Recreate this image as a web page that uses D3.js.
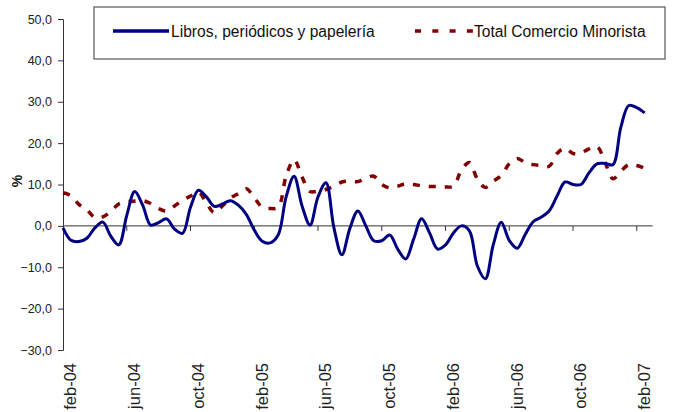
<!DOCTYPE html>
<html>
<head>
<meta charset="utf-8">
<script src="https://cdn.jsdelivr.net/npm/d3@7"></script>
<style>
  html, body { margin: 0; padding: 0; background: #fff; }
  svg { display: block; font-family: "Liberation Sans", Arial, sans-serif; }
</style>
</head>
<body>
<svg id="chart" width="674" height="412"></svg>
<script>
// Month categories (x axis)
const months = ["feb-04","mar-04","abr-04","may-04","jun-04","jul-04","ago-04","sep-04","oct-04","nov-04","dic-04","ene-05",
  "feb-05","mar-05","abr-05","may-05","jun-05","jul-05","ago-05","sep-05","oct-05","nov-05","dic-05","ene-06",
  "feb-06","mar-06","abr-06","may-06","jun-06","jul-06","ago-06","sep-06","oct-06","nov-06","dic-06","ene-07","feb-07"];
const labelEvery = 4;
const yTicks = [-30, -20, -10, 0, 10, 20, 30, 40, 50];
const seriesNames = ["Libros, periódicos y papelería", "Total Comercio Minorista"];

// Values sampled every half month, starting half a month before feb-04
const libros = [-0.5,-3.5,-3.8,-3.0,-0.5,0.9,-2.5,-4.6,2.5,8.3,5.0,0.2,0.8,1.7,-0.8,-1.8,
  4.5,8.6,7.0,4.7,5.3,6.1,5.0,2.8,-1.0,-3.7,-4.1,-2.2,7.0,12.0,4.8,0.2,
  7.0,10.4,-0.5,-7.0,-0.6,3.6,0.0,-3.6,-3.6,-2.2,-5.6,-8.0,-3.2,1.7,-1.7,-5.6,
  -4.6,-1.7,0.0,-1.2,-9.7,-12.8,-4.5,0.9,-3.5,-5.4,-2.1,1.0,2.1,3.6,7.2,10.6,
  10.0,10.0,12.8,15.0,15.1,14.8,23.8,29.1,28.6,27.3];
const total = [8.0,7.3,5.2,3.9,2.0,2.2,3.5,5.3,5.8,6.0,6.1,5.4,4.2,3.6,4.8,6.2,
  7.2,8.2,5.5,3.2,4.8,6.7,7.8,9.0,6.8,4.5,4.2,4.5,12.0,16.0,11.8,8.3,
  8.4,8.8,9.6,10.6,10.8,10.7,11.5,12.0,10.0,9.2,9.6,10.2,10.0,9.7,9.5,9.5,
  9.4,9.6,13.5,15.3,11.3,9.3,10.8,12.2,15.0,16.3,15.3,14.8,14.6,14.4,17.5,18.8,
  17.5,17.6,18.6,19.2,15.5,11.4,13.2,14.8,14.6,13.9];

const svg = d3.select("#chart");
const plot = { left: 63, right: 652.7, top: 19, bottom: 350 };

const band = d3.scaleBand().domain(months).range([plot.left, plot.right]).padding(0);
const x = d3.scaleLinear().domain([-0.5, months.length - 0.5]).range([plot.left, plot.right]);
const y = d3.scaleLinear().domain([-30, 50]).range([plot.bottom, plot.top]);

const fmt = v => d3.format(".1f")(v).replace(".", ",");

// Y axis
const yAxis = svg.append("g").attr("transform", `translate(${plot.left},0)`)
  .call(d3.axisLeft(y).tickValues(yTicks).tickSize(5).tickPadding(6).tickFormat(fmt));
yAxis.select(".domain").attr("stroke", "#333").attr("stroke-width", 1);
yAxis.selectAll(".tick line").attr("stroke", "#333");
yAxis.selectAll(".tick text").attr("font-size", "12.5px").attr("fill", "#222")
  .attr("font-family", "Liberation Sans, Arial, sans-serif");

// Y title
svg.append("text")
  .attr("transform", `translate(22,181) rotate(-90)`)
  .attr("text-anchor", "middle")
  .attr("font-weight", "bold").attr("font-size", "14px").attr("fill", "#111")
  .text("%");

// X axis at zero
const xAxisG = svg.append("g").attr("transform", `translate(0,${y(0)})`);
xAxisG.append("line").attr("x1", plot.left).attr("x2", plot.right)
  .attr("stroke", "#333").attr("stroke-width", 1);
const tickIdx = d3.range(labelEvery, months.length, labelEvery);
xAxisG.selectAll("line.tk").data(tickIdx).join("line").attr("class", "tk")
  .attr("x1", d => band(months[d])).attr("x2", d => band(months[d]))
  .attr("y1", 0).attr("y2", 5).attr("stroke", "#333");

// X labels
const labelled = months.filter((m, i) => i % labelEvery === 0);
svg.selectAll("text.xl").data(labelled).join("text").attr("class", "xl")
  .attr("transform", d => `translate(${band(d) + band.bandwidth() / 2 + 5.5},363) rotate(-90)`)
  .attr("text-anchor", "end")
  .attr("font-size", "16.5px").attr("fill", "#222")
  .text(d => d);

// Lines
const line = d3.line()
  .x((d, i) => x(-0.5 + i * 0.5))
  .y(d => y(d))
  .curve(d3.curveCatmullRom.alpha(0.5));

svg.append("path").datum(total)
  .attr("d", line).attr("fill", "none")
  .attr("stroke", "#800000").attr("stroke-width", 3.5)
  .attr("stroke-dasharray", "7,9");

svg.append("path").datum(libros)
  .attr("d", line).attr("fill", "none")
  .attr("stroke", "#000080").attr("stroke-width", 3);

// Legend
const lg = svg.append("g");
lg.append("rect").attr("x", 94).attr("y", 7).attr("width", 571).attr("height", 52)
  .attr("fill", "#fff").attr("stroke", "#555").attr("stroke-width", 1.2);
lg.append("line").attr("x1", 113).attr("x2", 169).attr("y1", 31).attr("y2", 31)
  .attr("stroke", "#000080").attr("stroke-width", 3.5);
lg.append("text").attr("x", 171).attr("y", 37).attr("font-size", "15.6px").attr("fill", "#111")
  .text(seriesNames[0]);
lg.append("line").attr("x1", 415).attr("x2", 473).attr("y1", 31).attr("y2", 31)
  .attr("stroke", "#800000").attr("stroke-width", 3.5).attr("stroke-dasharray", "6,11.3");
lg.append("text").attr("x", 474).attr("y", 37).attr("font-size", "15.6px").attr("fill", "#111")
  .text(seriesNames[1]);
</script>
</body>
</html>
